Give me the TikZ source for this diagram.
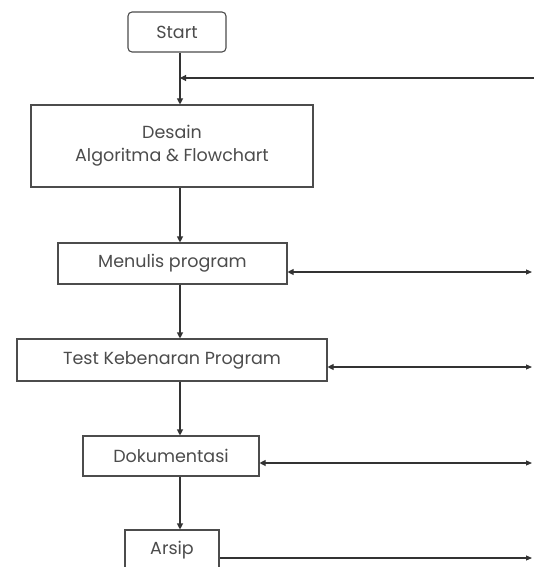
\documentclass[tikz,border=0pt]{standalone}
\usepackage{fontspec}
\setmainfont{Poppins}
\usetikzlibrary{arrows.meta}
\begin{document}
\begin{tikzpicture}[x=1pt,y=-1pt,
  box/.style={draw=black!70, line width=1.1pt, inner sep=0pt, align=center,
    text=black!70, font=\fontsize{17.5}{23}\selectfont},
  flow/.style={draw=black!80, line width=1.1pt, -{Triangle[length=6pt,width=6pt]}},
  both/.style={draw=black!80, line width=1.1pt,
    {Triangle[length=6pt,width=6pt]}-{Triangle[length=6pt,width=5pt]}},
  tail/.style={draw=black!80, line width=1.1pt, -{Triangle[length=6pt,width=5pt]}}]
\useasboundingbox (0,0) rectangle (534,567);
\clip (0,0) rectangle (534,567);
\fill[white] (0,0) rectangle (534,567);

% process boxes
\node[box, rounded corners=4pt, minimum width=98pt, minimum height=40pt] (start) at (177,32) {Start};
\node[box, minimum width=282pt, minimum height=82pt] (desain) at (172,146) {Desain\\Algoritma \& Flowchart};
\node[box, minimum width=229pt, minimum height=41pt] (menulis) at (172.5,263.5) {Menulis program};
\node[box, minimum width=310pt, minimum height=42pt] (test) at (172,360) {Test Kebenaran Program};
\node[box, minimum width=176pt, minimum height=40pt] (dok) at (171,456) {Dokumentasi};
\node[box, minimum width=94pt, minimum height=64pt] (arsip) at (172,562) {};
\node[text=black!70, font=\fontsize{17.5}{23}\selectfont] (arsiplbl) at (172,550) {Arsip};

% main column and feedback entry point
\coordinate (col) at (180,0);
\coordinate (join) at (180,78);
\coordinate (r0) at (536,78);
\coordinate (r1) at (532,272);
\coordinate (r2) at (532,367);
\coordinate (r3) at (532,463);
\coordinate (r4) at (532,558);

% downward flow
\draw[draw=black!80, line width=1.1pt] (start.south -| col) -- (join);
\draw[flow] (join) -- (desain.north -| col);
\draw[flow] (desain.south -| col) -- (menulis.north -| col);
\draw[flow] (menulis.south -| col) -- (test.north -| col);
\draw[flow] (test.south -| col) -- (dok.north -| col);
\draw[flow] (dok.south -| col) -- (arsip.north -| col);

% return lines on the right
\draw[flow] (r0) -- (join);
\draw[both] (menulis.east |- r1) -- (r1);
\draw[both] (test.east |- r2) -- (r2);
\draw[both] (dok.east |- r3) -- (r3);
\draw[tail] (arsip.east |- r4) -- (r4);
\end{tikzpicture}
\end{document}
